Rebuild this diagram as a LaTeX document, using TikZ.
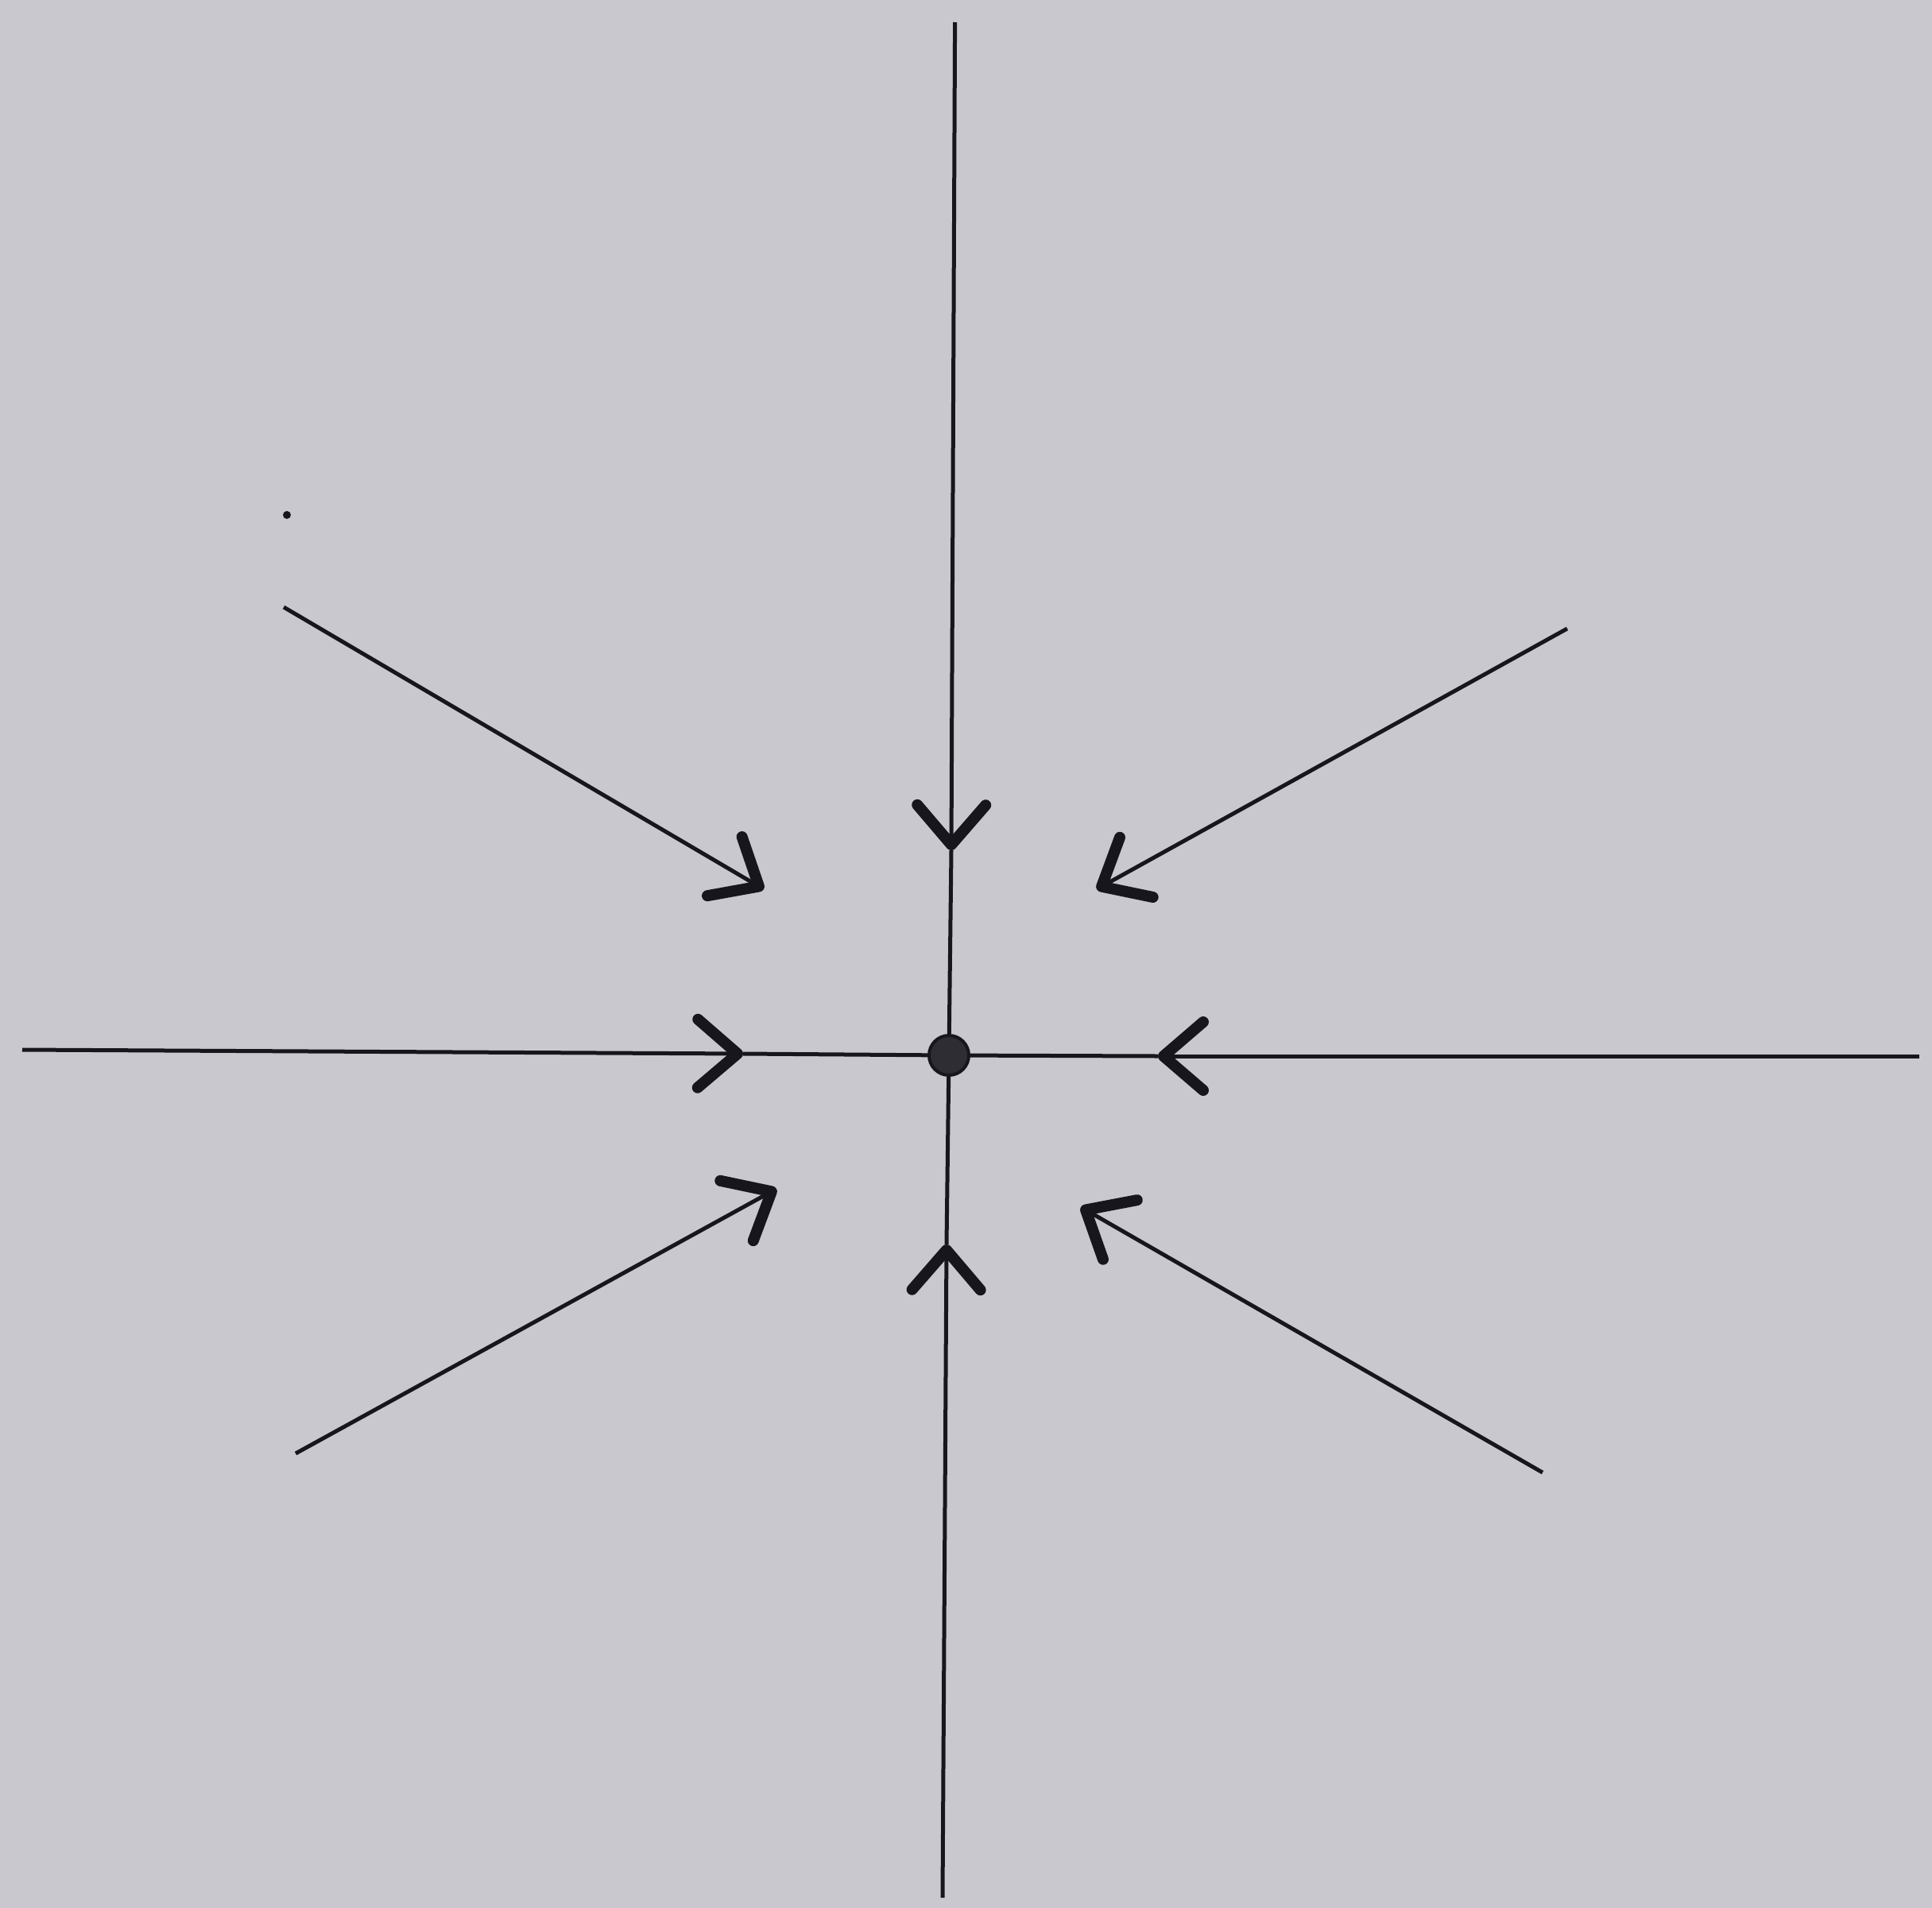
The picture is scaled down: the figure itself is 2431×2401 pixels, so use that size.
\documentclass[tikz,border=0pt]{standalone}
\usetikzlibrary{arrows.meta}
\definecolor{bg}{RGB}{201,200,206}
\definecolor{ink}{RGB}{22,22,28}
\begin{document}
\begin{tikzpicture}[x=1pt,y=-1pt,
  axisline/.style={draw=ink, line width=5pt},
  flow/.style={draw=ink, line width=5pt, -{Straight Barb[length=50pt,width=86pt,line width=14pt,round]}}]
\fill[bg] (0,0) rectangle (2431,2401);
\useasboundingbox (0,0) rectangle (2431,2401);
\node[circle, fill=ink!90, draw=ink, line width=4pt, minimum size=50pt, inner sep=0pt] (o) at (1194,1328) {};
% axis ends and tips
\coordinate (top) at (1201.6,28);
\coordinate (toptip) at (1197,1070);
\coordinate (bot) at (1186,2388);
\coordinate (bottip) at (1191,1566);
\coordinate (lft) at (28,1321);
\coordinate (lfttip) at (935,1326);
\coordinate (rgt) at (2415,1329);
\coordinate (rgttip) at (1457,1329);
% diagonal trajectories
\coordinate (ul) at (357,764);
\coordinate (ultip) at (961,1119);
\coordinate (ur) at (1972,791);
\coordinate (urtip) at (1380,1119);
\coordinate (ll) at (372,1829);
\coordinate (lltip) at (977,1496);
\coordinate (lr) at (1941,1853);
\coordinate (lrtip) at (1360,1519);
\draw[flow] (top) -- (toptip);
\draw[axisline] (toptip) -- (o);
\draw[flow] (bot) -- (bottip);
\draw[axisline] (bottip) -- (o);
\draw[flow] (lft) -- (lfttip);
\draw[axisline] (lfttip) -- (o);
\draw[flow] (rgt) -- (rgttip);
\draw[axisline] (rgttip) -- (o);
\draw[flow] (ul) -- (ultip);
\draw[flow] (ur) -- (urtip);
\draw[flow] (ll) -- (lltip);
\draw[flow] (lr) -- (lrtip);
\fill[ink] (361,648) circle (5pt);
\end{tikzpicture}
\end{document}
